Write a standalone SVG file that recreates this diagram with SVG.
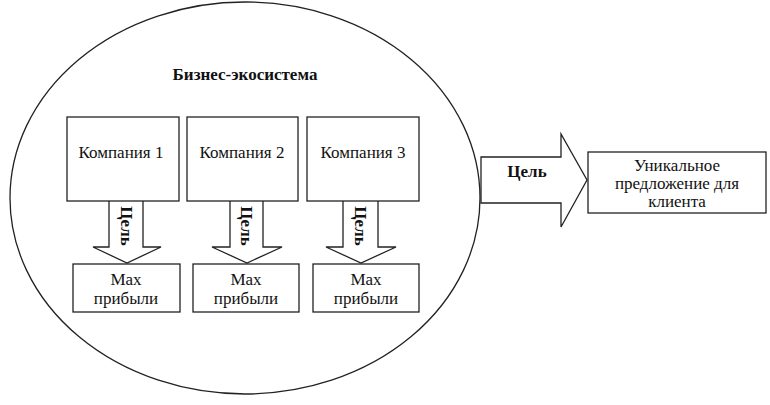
<svg xmlns="http://www.w3.org/2000/svg" width="770" height="405" viewBox="0 0 770 405">
<style>
.ln{fill:#fff;stroke:#222;stroke-width:1.3}
text{font-family:'Liberation Serif','DejaVu Serif',serif;font-size:17px;fill:#111;text-anchor:middle}
.b{font-weight:bold}
</style>
<rect width="770" height="405" fill="#fff"/>
<g id="ecosystem">
<ellipse class="ln" cx="245" cy="198" rx="235" ry="196"/>
<text class="b" x="245" y="80">Бизнес-экосистема</text>
</g>
<g id="connectors">
<path class="ln" d="M109,201 V247 H93 L127,263 L161,247 H143 V201"/>
<text class="b" transform="translate(121,226) rotate(90)">Цель</text>
<path class="ln" d="M230,201 V247 H212 L247,263 L282,247 H263 V201"/>
<text class="b" transform="translate(241,226) rotate(90)">Цель</text>
<path class="ln" d="M343,201 V247 H326 L361,263 L396,247 H378 V201"/>
<text class="b" transform="translate(355,226) rotate(90)">Цель</text>
<path class="ln" d="M481,157 H561 V134 L587,180 L561,227 V203 H481 Z"/>
<text class="b" x="527" y="177">Цель</text>
</g>
<g id="company1">
<rect class="ln" x="67" y="117" width="112" height="84"/>
<text x="121" y="158">Компания 1</text>
</g>
<g id="company2">
<rect class="ln" x="187" y="117" width="111" height="84"/>
<text x="242" y="158">Компания 2</text>
</g>
<g id="company3">
<rect class="ln" x="307" y="117" width="112" height="84"/>
<text x="363" y="158">Компания 3</text>
</g>
<g id="max1">
<rect class="ln" x="73" y="264" width="107" height="48"/>
<text x="126" y="285">Max</text>
<text x="126" y="304">прибыли</text>
</g>
<g id="max2">
<rect class="ln" x="193" y="264" width="106" height="48"/>
<text x="246" y="285">Max</text>
<text x="246" y="304">прибыли</text>
</g>
<g id="max3">
<rect class="ln" x="313" y="264" width="106" height="48"/>
<text x="366" y="285">Max</text>
<text x="366" y="304">прибыли</text>
</g>
<g id="target">
<rect class="ln" x="588" y="152" width="178" height="61"/>
<text x="677" y="171">Уникальное</text>
<text x="677" y="189">предложение для</text>
<text x="677" y="207">клиента</text>
</g>
</svg>
